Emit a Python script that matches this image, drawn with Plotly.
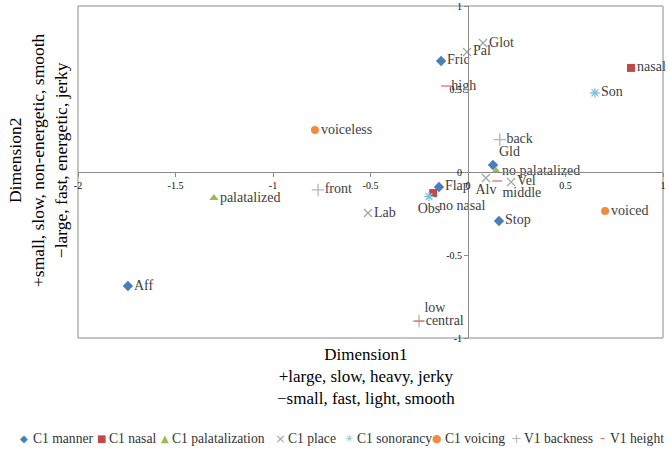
import plotly.graph_objects as go

# ---------------- data ----------------
manner_labels = ["Fric", "Gld", "Flap", "Stop", "Aff"]
manner_x = [-0.138, 0.128, -0.149, 0.159, -1.744]
manner_y = [0.669, 0.042, -0.090, -0.295, -0.687]

nasal_labels = ["nasal", "no nasal"]
nasal_x = [0.836, -0.179]
nasal_y = [0.627, -0.127]

palatal_labels = ["palatalized", "no palatalized"]
palatal_x = [-1.303, 0.144]
palatal_y = [-0.157, 0.006]

place_labels = ["Glot", "Pal", "Lab", "Alv", "Vel"]
place_x = [0.077, -0.005, -0.513, 0.092, 0.221]
place_y = [0.777, 0.723, -0.247, -0.036, -0.060]

sonor_labels = ["Son", "Obs"]
sonor_x = [0.651, -0.200]
sonor_y = [0.476, -0.148]

voicing_labels = ["voiceless", "voiced"]
voicing_x = [-0.785, 0.703]
voicing_y = [0.253, -0.235]

back_labels = ["back", "front", "central"]
back_x = [0.163, -0.769, -0.251]
back_y = [0.195, -0.108, -0.898]

height_labels = ["high", "middle", "low"]
height_x = [-0.113, 0.149, -0.251]
height_y = [0.518, -0.054, -0.898]

series_names = ["C1 manner", "C1 nasal", "C1 palatalization", "C1 place",
                "C1 sonorancy", "C1 voicing", "V1 backness", "V1 height"]

x_tick_vals = [-2, -1.5, -1, -0.5, 0, 0.5, 1]
x_tick_text = ["-2", "-1.5", "-1", "-0.5", "0", "0.5", "1"]
y_tick_vals = [-1, -0.5, 0, 0.5, 1]
y_tick_text = ["-1", "-0.5", "0", "0.5", "1"]

x_title = "Dimension1<br>+large, slow, heavy, jerky<br>\u2212small, fast, light, smooth"
y_title = "Dimension2<br>+small, slow, non-energetic, smooth<br>\u2212large, fast, energetic, jerky"

# ---------------- styles ----------------
SERIF = "Liberation Serif"
LABEL_COLOR = "#404040"

series_data = [
    (manner_x, manner_y, manner_labels),
    (nasal_x, nasal_y, nasal_labels),
    (palatal_x, palatal_y, palatal_labels),
    (place_x, place_y, place_labels),
    (sonor_x, sonor_y, sonor_labels),
    (voicing_x, voicing_y, voicing_labels),
    (back_x, back_y, back_labels),
    (height_x, height_y, height_labels),
]

colors = ["#4A7EBB", "#BE4B48", "#98B954", "#A6A6A6",
          "#7FC3DC", "#F38B3F", "#B5B5B5", "#E07070"]
symbols = ["diamond", "square", "triangle-up", "x-thin-open",
           "asterisk-open", "circle", "cross-thin-open", "line-ew-open"]
sizes = [8, 8, 8, 8, 8, 8, 9, 7]
text_positions = [
    ["middle right", "top right", "middle right", "middle right", "middle right"],
    ["middle right", "bottom right"],
    ["middle right", "middle right"],
    ["middle right", "middle right", "middle right", "bottom center", "middle right"],
    ["middle right", "bottom center"],
    ["middle right", "middle right"],
    ["middle right", "middle right", "middle right"],
    ["middle right", "bottom right", "top right"],
]

# legend (drawn as text) : glyph, glyph size, pixel x of glyph, pixel x of text
legend_glyphs = ["\u25C6", "\u25A0", "\u25B2", "\u00D7", "\u2733", "\u25CF", "+", "-"]
legend_glyph_sizes = [10, 10, 10, 13, 10, 11, 13, 14]
legend_glyph_px = [24, 101, 165, 280, 349, 437, 516, 602]
legend_text_px = [31, 107, 170, 286, 355, 443, 522, 608]
LEGEND_Y_PX = 438

W, H = 670, 451
ML, MR, MT, MB = 78, 7, 6, 113
PW, PH = W - ML - MR, H - MT - MB


def px_to_paper_x(px):
    return (px - ML) / PW


def py_to_paper_y(py):
    return (H - MB - py) / PH


fig = go.Figure()
for (xs, ys, labs), name, c, sym, sz, tp in zip(series_data, series_names, colors,
                                               symbols, sizes, text_positions):
    open_sym = sym.endswith("-open")
    fig.add_trace(go.Scatter(
        x=xs, y=ys, text=labs, name=name,
        mode="markers+text",
        textposition=tp,
        textfont=dict(family=SERIF, size=14, color=LABEL_COLOR),
        marker=dict(symbol=sym, size=sz, color=c,
                    line=dict(color=c, width=1.3 if open_sym else 0)),
        cliponaxis=False,
        hoverinfo="skip",
    ))

axis_common = dict(
    showgrid=False, zeroline=False, showline=True,
    linecolor="#8A8A8A", linewidth=1,
    ticks="outside", ticklen=4, tickcolor="#8A8A8A", tickwidth=1,
    tickfont=dict(family=SERIF, size=10, color="#111111"),
    fixedrange=True,
)

fig.update_layout(
    width=W, height=H,
    margin=dict(l=ML, r=MR, t=MT, b=MB, autoexpand=False),
    paper_bgcolor="white", plot_bgcolor="white",
    showlegend=False,
    hovermode=False,
    xaxis=dict(range=[-2, 1], anchor="free", position=0.5,
               tickvals=x_tick_vals, ticktext=x_tick_text, **axis_common),
    yaxis=dict(range=[-1, 1], anchor="free", position=2 / 3,
               tickvals=y_tick_vals, ticktext=y_tick_text, **axis_common),
    shapes=[dict(type="rect", xref="paper", yref="paper", x0=0, y0=0, x1=1, y1=1,
                 line=dict(color="#8A8A8A", width=1), layer="below")],
)

annotations = [
    dict(text=x_title, xref="paper", yref="paper",
         x=px_to_paper_x(366), y=py_to_paper_y(377),
         xanchor="center", yanchor="middle", showarrow=False, align="center",
         font=dict(family=SERIF, size=17, color="#000000")),
    dict(text=y_title, xref="paper", yref="paper", textangle=-90,
         x=px_to_paper_x(38), y=py_to_paper_y(160),
         xanchor="center", yanchor="middle", showarrow=False, align="center",
         font=dict(family=SERIF, size=17.5, color="#000000")),
]
ly = py_to_paper_y(LEGEND_Y_PX)
for name, c, g, gs, gx, tx in zip(series_names, colors, legend_glyphs,
                                  legend_glyph_sizes, legend_glyph_px, legend_text_px):
    annotations.append(dict(text=g, xref="paper", yref="paper",
                            x=px_to_paper_x(gx), y=ly, xanchor="center", yanchor="middle",
                            showarrow=False,
                            font=dict(family="DejaVu Sans", size=gs, color=c)))
    annotations.append(dict(text=name, xref="paper", yref="paper",
                            x=px_to_paper_x(tx), y=ly, xanchor="left", yanchor="middle",
                            showarrow=False,
                            font=dict(family=SERIF, size=13.6, color="#333333")))
fig.update_layout(annotations=annotations)

fig.write_html("out.html", config={"displayModeBar": False},
               post_script="document.body.style.margin='0px';")
